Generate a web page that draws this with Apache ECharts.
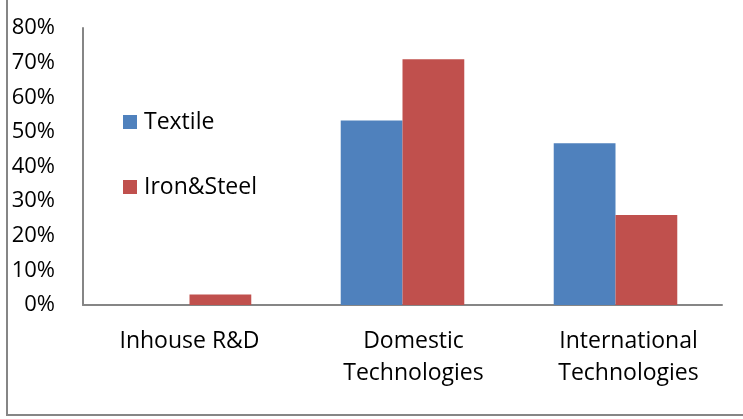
<!DOCTYPE html>
<html>
<head>
<meta charset="utf-8">
<script src="https://cdn.jsdelivr.net/npm/echarts@6/dist/echarts.min.js"></script>
<style>
html,body{margin:0;padding:0;background:#fff;}
#c{width:743px;height:419px;}
</style>
</head>
<body>
<div id="c"></div>
<script>
var categories = ['Inhouse R&D', 'Domestic\nTechnologies', 'International\nTechnologies'];
var textile = [0, 53.3, 46.7];
var ironSteel = [3, 71, 26];
var yTicks = [0, 10, 20, 30, 40, 50, 60, 70, 80];

var FONT = '"Open Sans", sans-serif';
// wrapped labels sit slightly right of their category centre in the reference
var labelShift = [0, 22, 26];
var categoryData = categories.map(function (c, i) {
  return {value: c, textStyle: {padding: [0, 0, 0, labelShift[i]]}};
});

var chart = echarts.init(document.getElementById('c'), null, {renderer: 'canvas'});
chart.setOption({
  animation: false,
  graphic: [{
    type: 'rect',
    shape: {x: 7, y: -10, width: 760, height: 425},
    style: {fill: 'none', stroke: '#868686', lineWidth: 2},
    silent: true
  }],
  grid: {left: 83, right: 21, top: 28, bottom: 114, containLabel: false},
  legend: {
    orient: 'vertical',
    left: 118, top: 104,
    itemWidth: 14, itemHeight: 14, itemGap: 39,
    icon: 'rect',
    textStyle: {fontFamily: FONT, fontSize: 23, color: '#000', lineHeight: 26, padding: [0, 0, 0, 2]},
    data: ['Textile', 'Iron&Steel']
  },
  xAxis: {
    type: 'category',
    data: categoryData,
    axisLine: {lineStyle: {color: '#868686', width: 2}},
    axisTick: {show: false},
    axisLabel: {fontFamily: FONT, fontSize: 23, color: '#000', margin: 20, lineHeight: 32}
  },
  yAxis: {
    type: 'value',
    min: yTicks[0], max: yTicks[yTicks.length - 1], interval: 10,
    axisLine: {show: true, lineStyle: {color: '#868686', width: 2}},
    axisTick: {show: false},
    splitLine: {show: false},
    axisLabel: {fontFamily: FONT, fontSize: 22, color: '#000', margin: 28, formatter: '{value}%'}
  },
  series: [{
    name: 'Textile', type: 'bar', data: textile,
    barGap: '0%', barCategoryGap: '42%',
    itemStyle: {color: '#4F81BD'}
  }, {
    name: 'Iron&Steel', type: 'bar', data: ironSteel,
    barGap: '0%', barCategoryGap: '42%',
    itemStyle: {color: '#C0504D'}
  }]
});
</script>
</body>
</html>
